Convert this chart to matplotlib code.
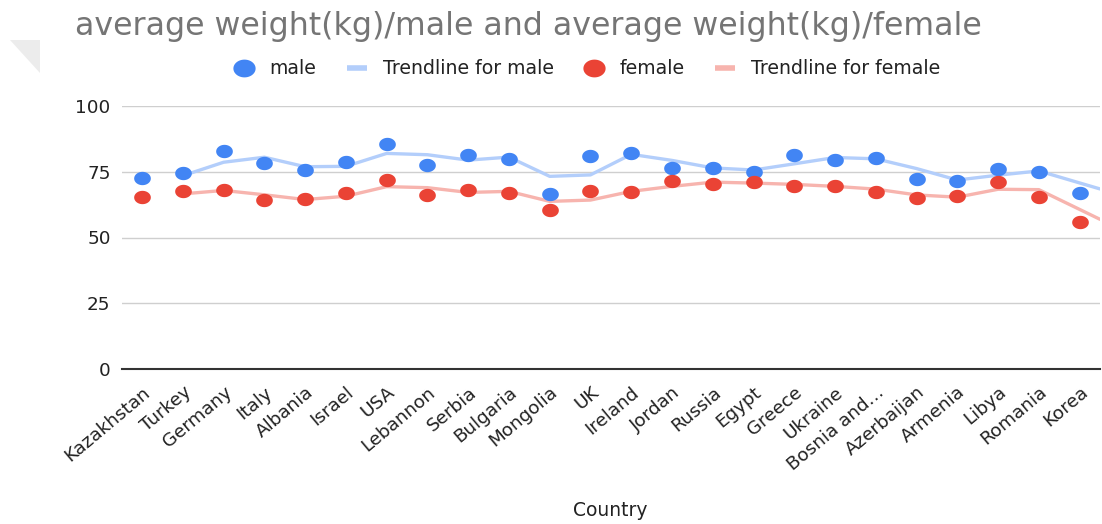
import numpy as np
import matplotlib
matplotlib.use("Agg")
import matplotlib.pyplot as plt
from matplotlib.path import Path
from matplotlib.patches import Polygon
from matplotlib.lines import Line2D

# ---- data -------------------------------------------------------------
countries = ["Kazakhstan", "Turkey", "Germany", "Italy", "Albania", "Israel",
             "USA", "Lebannon", "Serbia", "Bulgaria", "Mongolia", "UK",
             "Ireland", "Jordan", "Russia", "Egypt", "Greece", "Ukraine",
             "Bosnia and\u2026", "Azerbaijan", "Armenia", "Libya", "Romania",
             "Korea"]
male = [72.5, 74.4, 82.7, 78.2, 75.5, 78.5, 85.3, 77.5, 81.2, 79.8, 66.6, 80.9,
        82.2, 76.3, 76.5, 74.7, 81.2, 79.5, 80.2, 72.1, 71.5, 75.8, 74.7, 66.7]
female = [65.5, 67.6, 68.1, 64.3, 64.5, 66.8, 71.8, 66.0, 68.2, 66.8, 60.6, 67.8,
          67.2, 71.6, 70.4, 70.9, 69.4, 69.4, 67.3, 65.0, 65.6, 71.0, 65.3, 56.0]
y_ticks = [0, 25, 50, 75, 100]
series_labels = ["male", "Trendline for male", "female", "Trendline for female"]
title = "average weight(kg)/male and average weight(kg)/female"
x_title = "Country"

# ---- styling ----------------------------------------------------------
W, H, DPI = 1102, 524, 100
BLUE, RED = "#4285F4", "#EA4335"
BLUE_T, RED_T = "#B3CEFB", "#F7B4AE"
plt.rcParams["font.family"] = ["DejaVu Sans"]


def fx(px):
    return px / W


def fy(py):
    return 1 - py / H


# slightly flattened dot marker
theta = np.linspace(0, 2 * np.pi, 73)
dot = Path(np.column_stack([np.cos(theta), 0.8 * np.sin(theta)]), closed=True)


def moving_average(vals, window=2):
    v = np.asarray(vals, dtype=float)
    return np.convolve(v, np.ones(window) / window, mode="valid")


fig = plt.figure(figsize=(W / DPI, H / DPI), dpi=DPI)
fig.patch.set_facecolor("white")

ax = fig.add_axes([fx(121.7), fy(369.3), fx(1100) - fx(121.7), fy(105.7) - fy(369.3)])
x = np.arange(len(countries))

# trendlines: two-point moving average, last segment carried to the plot edge
for vals, col in ((male, BLUE_T), (female, RED_T)):
    tv = moving_average(vals)
    tx = x[1:].astype(float)
    tx = np.append(tx, x[-1] + 0.5)
    tv = np.append(tv, tv[-1] + 0.5 * (tv[-1] - tv[-2]))
    ax.plot(tx, tv, color=col, lw=2.4, solid_capstyle="round", zorder=2)

ax.plot(x, male, linestyle="none", marker=dot, markersize=12,
        markerfacecolor=BLUE, markeredgewidth=0, zorder=3)
ax.plot(x, female, linestyle="none", marker=dot, markersize=12,
        markerfacecolor=RED, markeredgewidth=0, zorder=3)

ax.set_xlim(-0.5, len(countries) - 0.5)
ax.set_ylim(0, 100)
ax.set_yticks(y_ticks)
ax.set_yticklabels([str(t) for t in y_ticks])
ax.set_xticks(x)
ax.set_xticklabels(countries, rotation=40, ha="right", va="top",
                   rotation_mode="anchor")
ax.tick_params(axis="both", length=0, labelsize=13.2, colors="#222222")
ax.tick_params(axis="y", pad=8)
ax.tick_params(axis="x", pad=10)

ax.grid(axis="y", color="#cfcfcf", lw=1.0, zorder=0)
ax.set_axisbelow(True)
for side in ("left", "right", "top"):
    ax.spines[side].set_visible(False)
ax.spines["bottom"].set_color("#333333")
ax.spines["bottom"].set_linewidth(1.5)
ax.spines["bottom"].set_zorder(1)

fig.text(fx(610), fy(516), x_title, ha="center", va="baseline",
         fontsize=13.5, color="#222222")

fig.text(fx(75), fy(35), title, ha="left", va="baseline",
         fontsize=22.8, color="#757575")

handles = [
    Line2D([], [], linestyle="none", marker=dot, markersize=16,
           markerfacecolor=BLUE, markeredgewidth=0),
    Line2D([], [], color=BLUE_T, lw=4, solid_capstyle="butt"),
    Line2D([], [], linestyle="none", marker=dot, markersize=16,
           markerfacecolor=RED, markeredgewidth=0),
    Line2D([], [], color=RED_T, lw=4, solid_capstyle="butt"),
]
fig.legend(handles, series_labels, loc="center", bbox_to_anchor=(fx(587), fy(69)),
           ncol=4, frameon=False, fontsize=13.6, handlelength=1.05,
           handletextpad=0.85, columnspacing=1.6, borderpad=0, labelcolor="#222222")

# faint corner shade at the upper left
fig.patches.append(Polygon([(fx(10), fy(40)), (fx(40), fy(40)), (fx(40), fy(73))],
                           closed=True, transform=fig.transFigure,
                           facecolor="#ececec", edgecolor="none", zorder=0))

fig.savefig("out.png", dpi=DPI)
